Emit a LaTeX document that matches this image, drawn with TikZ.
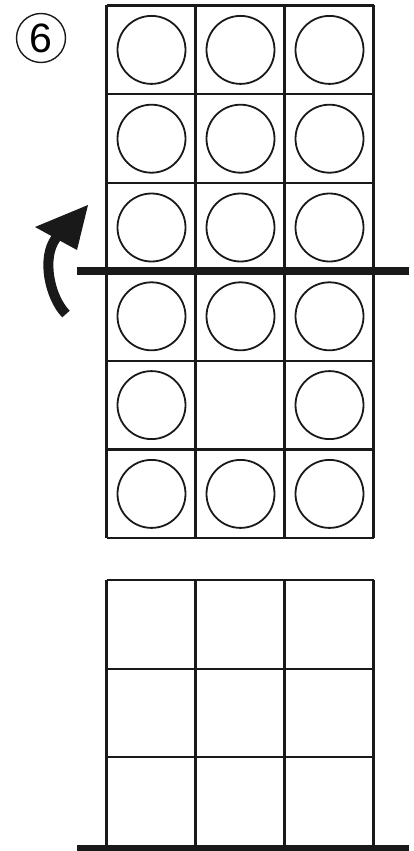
\documentclass[tikz,border=0pt]{standalone}
\usepackage{fontspec}
\setmainfont{Liberation Sans}
\begin{document}
\begin{tikzpicture}[x=1pt,y=-1pt,
  gridline/.style={line width=2.1pt, draw=black!90},
  ball/.style={circle, draw=black!90, line width=1.8pt, minimum size=68pt, inner sep=0pt},
  foldline/.style={line width=8.5pt, draw=black!90},
  numlabel/.style={circle, draw=black!90, line width=1.4pt, minimum size=49pt, inner sep=0pt, font=\fontsize{41}{41}\selectfont}]
\useasboundingbox (0,0) rectangle (413,851);
% top grid 3 x 6
\foreach \i in {0,...,3} {
  \draw[gridline] ({106.5+89*\i},5.5) -- ({106.5+89*\i},538.3);
}
\foreach \j in {0,...,6} {
  \draw[gridline] (106.5,{5.5+88.8*\j}) -- (373.5,{5.5+88.8*\j});
}
% circles
\foreach \j in {0,...,5} {
  \foreach \i in {0,1,2} {
    \ifnum\j=4 \ifnum\i=1 \else
      \node[ball] (c\j\i) at ({151.5+89*\i},{49.9+88.8*\j}) {};
    \fi\else
      \node[ball] (c\j\i) at ({151.5+89*\i},{49.9+88.8*\j}) {};
    \fi
  }
}
% bottom grid 3 x 3
\foreach \i in {0,...,3} {
  \draw[gridline] ({106.5+89*\i},580) -- ({106.5+89*\i},846);
}
\foreach \j in {0,...,2} {
  \draw[gridline] (106.5,{580+88.7*\j}) -- (373.5,{580+88.7*\j});
}
% fold lines
\coordinate (f1a) at (77,271);
\coordinate (f1b) at (409,271);
\draw[foldline] (f1a) -- (f1b);
\coordinate (f2a) at (77,848.5);
\coordinate (f2b) at (409,848.5);
\draw[foldline, line width=7pt] (f2a) -- (f2b);
% label
\node[numlabel] (lab) at (41,38) {6};
% curved arrow
\coordinate (atail) at (66,314);
\coordinate (abase) at (56,238);
\draw[line width=10pt, draw=black!90] (atail) .. controls (50,298) and (41,258) .. (abase);
\fill[black!90] (88,205) -- (35,227) -- (77,250) -- cycle;
\end{tikzpicture}
\end{document}
